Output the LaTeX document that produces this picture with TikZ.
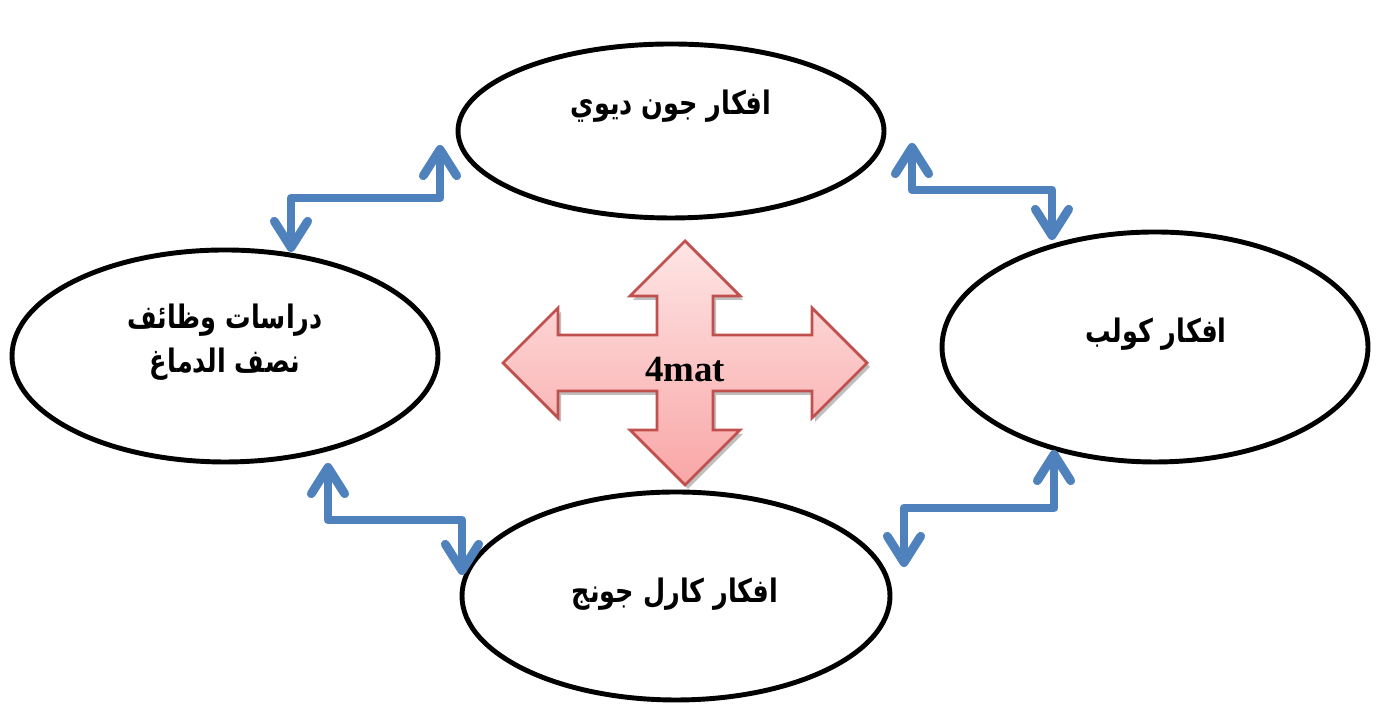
\documentclass[tikz,border=0pt]{standalone}
\usepackage{fontspec}
\setmainfont{Liberation Serif}
\newfontfamily\arabicfont[Script=Arabic, FakeStretch=0.79]{DejaVu Sans}
\TeXXeTstate=1
\usepackage{tikz}
\usetikzlibrary{shapes.geometric,arrows.meta}

\definecolor{linkblue}{HTML}{4F81BD}
\definecolor{crossred}{HTML}{C0504D}

\begin{document}
\begin{tikzpicture}[
  idea/.style={draw, ellipse, line width=1.4pt, inner sep=0pt},
  ar/.style={font=\arabicfont\bfseries\fontsize{9.2}{12.5}\selectfont, align=center},
  link/.style={draw=linkblue, line width=2.5pt, line join=round,
    {Straight Barb[length=7.5pt,width=9.5pt,round]}-{Straight Barb[length=7.5pt,width=9.5pt,round]}}
]

\useasboundingbox (0,0) rectangle (13.8,7.11);

\node[idea, minimum width=4.26cm, minimum height=1.74cm] (dewey) at (6.71,5.80) {};
\node[ar] (deweytext) at (6.71,6.05) {\beginR افكار جون ديوي\endR};

\node[idea, minimum width=4.26cm, minimum height=2.12cm] (brain) at (2.25,3.55) {};
\node[ar] (braintext) at (2.25,3.69) {\beginR دراسات وظائف\endR\\\beginR نصف الدماغ\endR};

\node[idea, minimum width=4.26cm, minimum height=2.30cm] (kolb) at (11.55,3.64) {};
\node[ar] (kolbtext) at (11.56,3.77) {\beginR افكار كولب\endR};

\node[idea, minimum width=4.28cm, minimum height=2.08cm] (jung) at (6.76,1.15) {};
\node[ar] (jungtext) at (6.75,1.17) {\beginR افكار كارل جونج\endR};

\fill[black!25, xshift=0.03cm, yshift=-0.04cm] (6.85,4.70) -- (7.40,4.15) -- (7.13,4.15) -- (7.13,3.76) -- (8.12,3.76) -- (8.12,4.03) -- (8.67,3.48) -- (8.12,2.93) -- (8.12,3.20) -- (7.13,3.20) -- (7.13,2.81) -- (7.40,2.81) -- (6.85,2.26) -- (6.30,2.81) -- (6.57,2.81) -- (6.57,3.20) -- (5.58,3.20) -- (5.58,2.93) -- (5.03,3.48) -- (5.58,4.03) -- (5.58,3.76) -- (6.57,3.76) -- (6.57,4.15) -- (6.30,4.15) -- cycle;

\draw[crossred, line width=0.8pt, top color={rgb,255:red,254;green,229;blue,229}, bottom color={rgb,255:red,249;green,166;blue,166}] (6.85,4.70) -- (7.40,4.15) -- (7.13,4.15) -- (7.13,3.76) -- (8.12,3.76) -- (8.12,4.03) -- (8.67,3.48) -- (8.12,2.93) -- (8.12,3.20) -- (7.13,3.20) -- (7.13,2.81) -- (7.40,2.81) -- (6.85,2.26) -- (6.30,2.81) -- (6.57,2.81) -- (6.57,3.20) -- (5.58,3.20) -- (5.58,2.93) -- (5.03,3.48) -- (5.58,4.03) -- (5.58,3.76) -- (6.57,3.76) -- (6.57,4.15) -- (6.30,4.15) -- cycle;

\node[font=\bfseries\fontsize{10.5}{12}\selectfont] (mat) at (6.85,3.41) {4mat};

\coordinate (tl1) at (4.40,5.66);
\coordinate (tl2) at (2.91,4.59);
\draw[link] (tl1) -- ++(0,-0.53) -| (tl2);

\coordinate (tr1) at (9.12,5.68);
\coordinate (tr2) at (10.52,4.71);
\draw[link] (tr1) -- ++(0,-0.47) -| (tr2);

\coordinate (bl1) at (3.28,2.48);
\coordinate (bl2) at (4.62,1.36);
\draw[link] (bl1) -- ++(0,-0.57) -| (bl2);

\coordinate (br1) at (10.54,2.61);
\coordinate (br2) at (9.04,1.44);
\draw[link] (br1) -- ++(0,-0.58) -| (br2);

\end{tikzpicture}
\end{document}
